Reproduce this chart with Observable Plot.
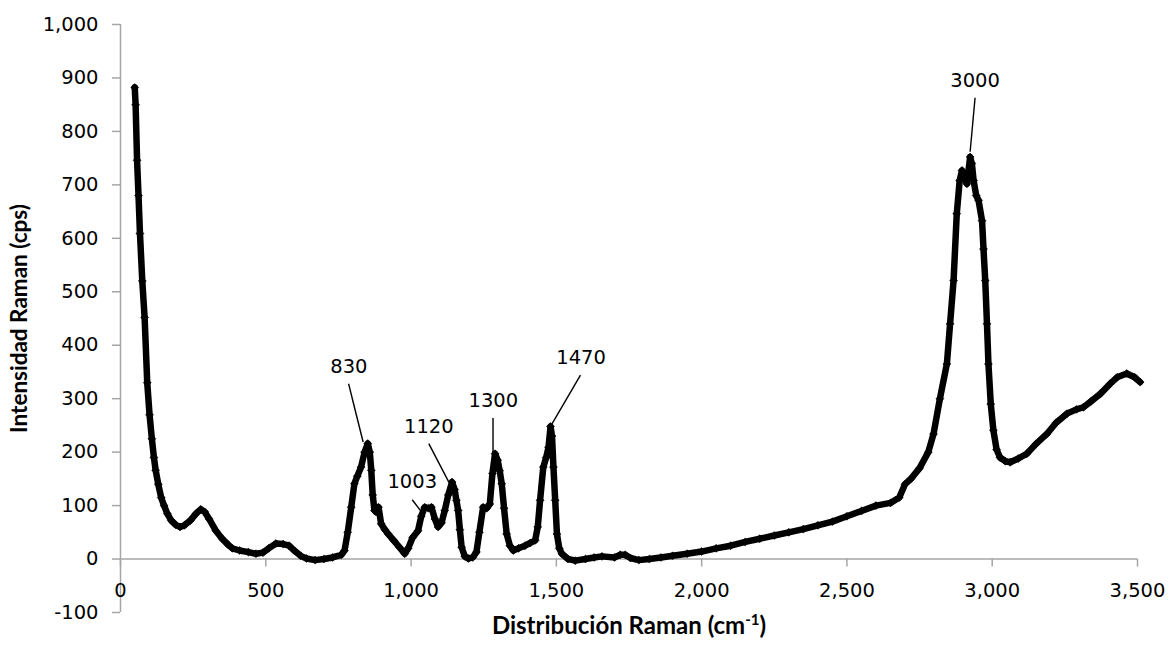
<!DOCTYPE html>
<html>
<head>
<meta charset="utf-8">
<script src="https://cdn.jsdelivr.net/npm/d3@7"></script>
<script src="https://cdn.jsdelivr.net/npm/@observablehq/plot@0.6"></script>
<style>
  html, body { margin: 0; padding: 0; background: #fff; }
  #chart { width: 1170px; height: 645px; }
</style>
</head>
<body>
<div id="chart"></div>
<script>
// Raman shift (cm-1) and intensity (cps)
const ramanShift = [49,52,57,62,67,75,83,92,100,108,115,121,130,140,150,161,175,190,205,220,240,260,276,290,305,328,350,370,385,410,440,466,490,510,535,560,580,600,620,640,670,700,730,760,771,782,794,805,815,828,840,851,858,863,868,874,880,888,897,910,921,940,960,978,990,1005,1024,1035,1047,1060,1070,1082,1093,1105,1116,1128,1141,1150,1156,1162,1168,1174,1185,1197,1212,1225,1235,1248,1260,1271,1280,1289,1298,1305,1312,1320,1329,1340,1352,1370,1392,1410,1427,1436,1444,1455,1465,1473,1480,1485,1490,1496,1502,1510,1519,1540,1565,1600,1630,1657,1700,1720,1737,1755,1784,1820,1860,1900,1950,2000,2050,2100,2150,2200,2250,2300,2350,2400,2450,2500,2550,2600,2650,2680,2700,2720,2750,2780,2798,2820,2844,2855,2867,2878,2888,2896,2905,2913,2924,2930,2936,2945,2953,2965,2970,2976,2982,2987,2995,3004,3015,3027,3045,3062,3090,3119,3150,3188,3220,3257,3290,3314,3340,3372,3406,3430,3463,3490,3509];
const intensity = [882,850,746,680,609,520,452,330,270,225,190,166,140,115,100,85,72,64,60,63,72,85,93,88,75,53,38,27,20,16,13,10,12,20,29,28,25,15,6,1,-2,0,3,8,16,50,97,141,155,172,200,216,200,166,120,91,88,97,66,55,47,35,22,10,20,40,53,80,97,95,97,75,60,68,91,120,144,130,110,91,55,22,5,1,3,13,50,97,95,103,160,197,185,165,141,95,47,25,16,20,25,30,35,60,110,172,190,209,248,230,172,110,47,20,10,0,-3,0,3,5,3,8,8,2,-2,0,3,6,10,14,20,25,32,38,44,50,56,63,70,80,90,100,105,115,140,150,170,200,234,300,365,440,521,646,708,727,715,702,752,740,708,680,671,633,580,521,440,365,290,241,205,190,183,181,188,197,215,234,255,272,280,284,295,309,328,340,347,340,331];

const xTicks = [0, 500, 1000, 1500, 2000, 2500, 3000, 3500];
const yTicks = [-100, 0, 100, 200, 300, 400, 500, 600, 700, 800, 900, 1000];

// Peak annotations (data units)
const peakLabels = ["830", "1003", "1120", "1300", "1470", "3000"];
const labelX = [786, 1004, 1061, 1283, 1585, 2941];
const labelY = [359, 144, 247, 297, 377, 895];
const leaderX1 = [785, 1004, 1061, 1282, 1583, 2941];
const leaderY1 = [328, 111, 216, 264, 344, 863];
const leaderX2 = [835, 1032, 1130, 1282, 1485, 2924];
const leaderY2 = [219, 91, 144, 200, 253, 762];

const spectrum = ramanShift.map((x, i) => ({x, y: intensity[i]}));
const fmt = d => d.toLocaleString("en-US");
const gray = "#a6a6a6";
const tickFont = "DejaVu Sans, sans-serif";

const chart = Plot.plot({
  width: 1170,
  height: 645,
  marginLeft: 120,
  marginRight: 33,
  marginTop: 24,
  marginBottom: 33,
  style: {fontFamily: tickFont, fontSize: "19.5px", background: "#fff", color: "#000"},
  x: {domain: [0, 3500], axis: null},
  y: {domain: [-100, 1000], axis: null},
  marks: [
    Plot.ruleX([0], {stroke: gray, strokeWidth: 1.5}),
    Plot.ruleY([0], {stroke: gray, strokeWidth: 1.5}),
    Plot.axisY(yTicks, {tickSize: 8, tickPadding: 14, stroke: gray, strokeWidth: 1.5, fill: "#000", fontSize: 19.5, tickFormat: fmt, label: null}),
    Plot.ruleX(xTicks, {x: d => d, y1: 0, y2: 0, insetBottom: -8, stroke: gray, strokeWidth: 1.5}),
    Plot.text(xTicks, {x: d => d, y: 0, dy: 32, text: d => fmt(d), fontSize: 19.5, fill: "#000"}),
    Plot.text(["Intensidad Raman (cps)"], {frameAnchor: "left", textAnchor: "middle", dx: -101, rotate: -90, fontFamily: "Lato, sans-serif", fontWeight: "bold", fontSize: 22.5, fill: "#000"}),
    Plot.text(["Distribución Raman (cm-1)"], {frameAnchor: "bottom", dy: 21, fontFamily: "Lato, sans-serif", fontWeight: "bold", fontSize: 24, fill: "#000"}),
    Plot.line(spectrum, {x: "x", y: "y", stroke: "#000", strokeWidth: 6.5}),
    Plot.dot(spectrum, {x: "x", y: "y", symbol: "diamond2", r: 3.6, fill: "#000", stroke: "#000", strokeWidth: 0.5}),
    Plot.link(peakLabels, {x1: leaderX1, y1: leaderY1, x2: leaderX2, y2: leaderY2, stroke: "#000", strokeWidth: 1.4}),
    Plot.text(peakLabels, {x: labelX, y: labelY, text: d => d, fontSize: 19.5, fill: "#000"})
  ]
});

document.getElementById("chart").appendChild(chart);

// superscript for cm-1
chart.querySelectorAll("text").forEach(t => {
  if (t.textContent === "Distribución Raman (cm-1)") {
    const ns = "http://www.w3.org/2000/svg";
    t.textContent = "Distribución Raman (cm";
    const sup = document.createElementNS(ns, "tspan");
    sup.setAttribute("baseline-shift", "super");
    sup.setAttribute("font-size", "15");
    sup.textContent = "-1";
    t.appendChild(sup);
    const close = document.createElementNS(ns, "tspan");
    close.textContent = ")";
    t.appendChild(close);
  }
});
</script>
</body>
</html>
